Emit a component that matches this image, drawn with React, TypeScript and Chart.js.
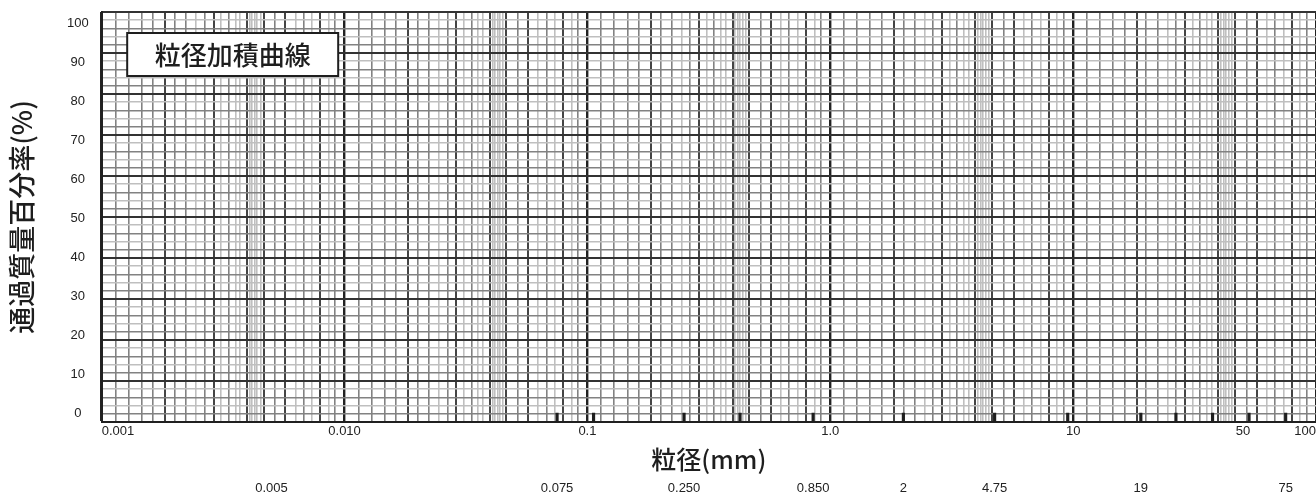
import { useEffect, useRef } from "react";
import { Chart, registerables } from "chart.js";

Chart.register(...registerables);

// ---------------- texts ----------------
const chartTitle = "粒径加積曲線";
const xAxisTitle = "粒径(mm)";
const yAxisTitle = "通過質量百分率(%)";

// ---------------- graph-paper grid (x, log) ----------------
const decadeStarts = [0.001, 0.01, 0.1, 1, 10];
const xGridEnd = 100;
// line positions inside one decade, as multipliers of the decade start
const decadeLineMultipliers = [
  1, 1.14, 1.29, 1.46, 1.63, 1.83, 2.0, 2.23, 2.45, 2.65, 2.89, 3.1, 3.33, 3.55,
  3.72, 3.96, 4.06, 4.16, 4.26, 4.36, 4.5, 4.64, 5.18, 5.7, 6.27, 6.78, 7.35,
  7.95, 8.6, 9.16,
];
// 0 = light, 1 = medium, 2 = dark, 3 = decade
const decadeLineLevels = [
  3, 1, 1, 1, 1, 2, 1, 1, 0, 1, 2, 0, 1, 0, 0, 2, 0, 0, 0, 0, 0, 2, 1, 2, 0, 1, 0,
  2, 0, 1,
];

// ---------------- graph-paper grid (y) ----------------
const yGridValues = [
  0, 2, 4, 6, 8, 10, 12, 14, 16, 18, 20, 22, 24, 26, 28, 30, 32, 34, 36, 38, 40,
  42, 44, 46, 48, 50, 52, 54, 56, 58, 60, 62, 64, 66, 68, 70, 72, 74, 76, 78, 80,
  82, 84, 86, 88, 90, 92, 94, 96, 98, 100,
];
const yTickValues = [0, 10, 20, 30, 40, 50, 60, 70, 80, 90, 100];
const yLabelMin = -2.31;
const yLabelMax = 102.8;

// ---------------- tick labels ----------------
const xTickValues = [0.001, 0.01, 0.1, 1, 10, 50, 100];
const xTickLabels = ["0.001", "0.010", "0.1", "1.0", "10", "50", "100"];
const sieveLabelValues = [0.005, 0.075, 0.25, 0.85, 2, 4.75, 19, 75];
const sieveLabelTexts = ["0.005", "0.075", "0.250", "0.850", "2", "4.75", "19", "75"];

// ---------------- sieve marks (short bars on the bottom edge) ----------------
const sieveSizes = [0.075, 0.106, 0.25, 0.425, 0.85, 2, 4.75, 9.5, 19, 26.5, 37.5, 53, 75];
const sieveMarkHeights = [2.2, 2.2, 2.2, 2.2, 2.2, 2.2, 2.2, 2.2, 2.2, 2.2, 2.2, 2.2, 2.2];

// ---------------- derived grid tables ----------------
const xGridValues: number[] = [];
const xGridLevels: number[] = [];
decadeStarts.forEach((d) => {
  decadeLineMultipliers.forEach((m, i) => {
    xGridValues.push(d * m);
    xGridLevels.push(decadeLineLevels[i]);
  });
});
xGridValues.push(xGridEnd);
xGridLevels.push(3);

const yLevel = (v: number) => {
  const r = Math.round(v) % 10;
  if (r === 0) return 4;
  if (r === 2 || r === 6) return 1;
  return 0;
};

// 0 light, 1 medium, 2 dark, 3 decade (vertical), 4 horizontal major
const levelColors = ["#bfbfbf", "#828282", "#444444", "#222222", "#333333"];
const levelWidths = [1.6, 1.6, 2, 2.4, 2];

const CJK = '"Noto Sans CJK JP", "Noto Sans CJK SC", sans-serif';
const LATIN = '"Liberation Sans", Arial, sans-serif';

const titleBoxPlugin = {
  id: "titleBox",
  afterDraw(chart: any) {
    const { ctx, chartArea } = chart;
    const x = chartArea.left + 25.5;
    const y = chartArea.top + 21;
    const w = 211;
    const h = 43;
    ctx.save();
    ctx.fillStyle = "#ffffff";
    ctx.fillRect(x, y, w, h);
    ctx.lineWidth = 2;
    ctx.strokeStyle = "#1e1e1e";
    ctx.strokeRect(x, y, w, h);
    ctx.font = `500 26px ${CJK}`;
    ctx.fillStyle = "#1e1e1e";
    ctx.textAlign = "center";
    ctx.textBaseline = "middle";
    ctx.fillText(chartTitle, x + w / 2, y + h / 2 + 1);
    ctx.restore();
  },
};

export default function App() {
  const ref = useRef<HTMLCanvasElement>(null);

  useEffect(() => {
    document.body.style.margin = "0";
    document.body.style.overflow = "hidden";
    Chart.defaults.font.family = LATIN;
    Chart.defaults.font.size = 13;
    Chart.defaults.color = "#222222";

    const chart = new Chart(ref.current as HTMLCanvasElement, {
      type: "bar",
      data: {
        datasets: [
          {
            type: "bar",
            label: "sieve",
            data: sieveSizes.map((s, i) => ({ x: s, y: sieveMarkHeights[i] })),
            backgroundColor: "#1e1e1e",
            borderWidth: 0,
            barThickness: 2.5,
            xAxisID: "x",
            yAxisID: "y",
          } as any,
        ],
      },
      options: {
        animation: false,
        responsive: true,
        maintainAspectRatio: false,
        events: [],
        layout: { padding: { top: 12, left: 0, right: 0, bottom: 1.3 } },
        plugins: { legend: { display: false }, tooltip: { enabled: false } },
        scales: {
          x: {
            type: "logarithmic",
            min: 0.001,
            max: 100,
            position: "bottom",
            weight: 0,
            offset: false,
            afterBuildTicks: (s: any) => {
              s.ticks = xGridValues.map((v) => ({ value: v }));
            },
            ticks: { display: false },
            grid: {
              offset: false,
              color: (c: any) => levelColors[xGridLevels[c.index] ?? 0],
              lineWidth: (c: any) => levelWidths[xGridLevels[c.index] ?? 0],
              drawTicks: true,
              tickLength: 2,
              tickColor: "rgba(0,0,0,0)",
            },
            border: { display: true, color: "#202020", width: 2 },
          },
          xLab1: {
            type: "logarithmic",
            min: 0.001,
            max: 100,
            position: "bottom",
            weight: 1,
            offset: false,
            afterBuildTicks: (s: any) => {
              s.ticks = xTickValues.map((v) => ({ value: v }));
            },
            grid: { display: false, drawTicks: false, offset: false },
            border: { display: false },
            ticks: {
              autoSkip: false,
              maxRotation: 0,
              minRotation: 0,
              align: "inner",
              padding: 0,
              font: { size: 13 },
              callback: (_v: any, i: number) => xTickLabels[i],
            },
            title: {
              display: true,
              text: xAxisTitle,
              font: { family: CJK, size: 25, weight: "500" },
              color: "#1e1e1e",
              padding: { top: 5, bottom: 6.5 },
            },
          },
          xLab2: {
            type: "logarithmic",
            min: 0.001,
            max: 100,
            position: "bottom",
            weight: 2,
            offset: false,
            afterBuildTicks: (s: any) => {
              s.ticks = sieveLabelValues.map((v) => ({ value: v }));
            },
            grid: { display: false, drawTicks: false, offset: false },
            border: { display: false },
            ticks: {
              autoSkip: false,
              maxRotation: 0,
              minRotation: 0,
              padding: 0,
              font: { size: 13 },
              callback: (_v: any, i: number) => sieveLabelTexts[i],
            },
          },
          y: {
            type: "linear",
            min: 0,
            max: 100,
            position: "left",
            weight: 0,
            afterBuildTicks: (s: any) => {
              s.ticks = yGridValues.map((v) => ({ value: v }));
            },
            ticks: { display: false },
            grid: {
              color: (c: any) => levelColors[yLevel(yGridValues[c.index] ?? 0)],
              lineWidth: (c: any) => levelWidths[yLevel(yGridValues[c.index] ?? 0)],
              drawTicks: true,
              tickLength: 13,
              tickColor: "rgba(0,0,0,0)",
            },
            border: { display: true, color: "#202020", width: 2 },
          },
          y2: {
            type: "linear",
            min: yLabelMin,
            max: yLabelMax,
            position: "left",
            weight: 1,
            afterBuildTicks: (s: any) => {
              s.ticks = yTickValues.map((v) => ({ value: v }));
            },
            grid: { display: false, drawTicks: false },
            border: { display: false },
            ticks: {
              padding: 0,
              crossAlign: "center",
              font: { size: 13 },
              callback: (v: any) => String(v),
            },
            title: {
              display: true,
              text: yAxisTitle,
              font: { family: CJK, size: 27, weight: "500" },
              color: "#1e1e1e",
              padding: { top: 5.8, bottom: 28.8 },
            },
          },
        } as any,
      },
      plugins: [titleBoxPlugin],
    });
    return () => chart.destroy();
  }, []);

  return (
    <div style={{ position: "relative", width: 1316, height: 498, background: "#ffffff" }}>
      <canvas ref={ref} />
    </div>
  );
}
